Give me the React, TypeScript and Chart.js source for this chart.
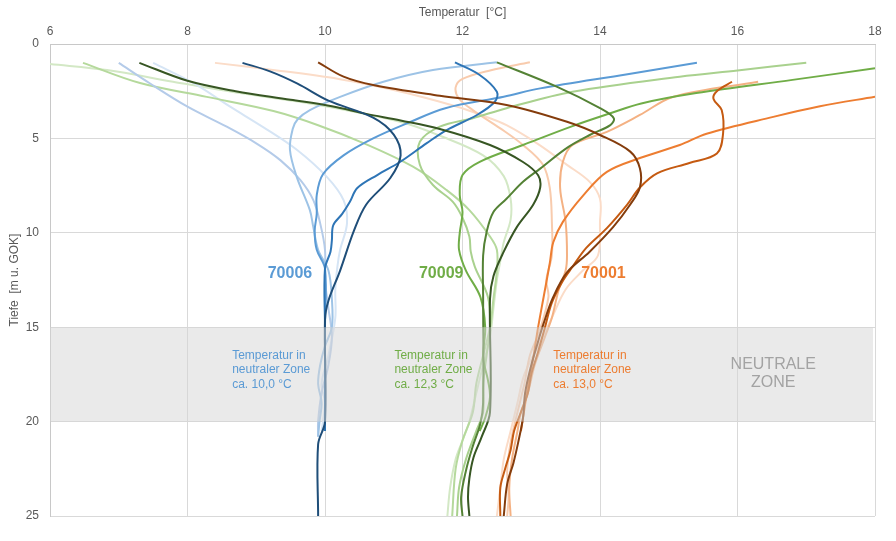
import React, { useEffect, useRef } from "react";
import { Chart, registerables } from "chart.js";

Chart.register(...registerables);

// ---- axis ticks ----
const xTicks = [6, 8, 10, 12, 14, 16, 18];
const yTicks = [0, 5, 10, 15, 20, 25];

// ---- neutral zone (depth, m) ----
const zoneTop = 15;
const zoneBottom = 20;

// ---- well 70006 (blue) : [temperature °C, depth m] ----
const blueDarkest = [[8.8,1.0],[9.2,1.45],[9.6,2.1],[10.05,3.0],[10.7,3.9],[11.0,4.8],[11.1,5.9],[10.95,7.1],[10.6,8.5],[10.42,9.9],[10.22,12.0],[10.05,13.6],[10.0,14.6],[10.0,20.0],[9.9,21.2],[9.9,25]];
const blueDark = [[11.89,0.97],[12.25,1.64],[12.5,2.53],[12.47,3.06],[12.21,3.76],[11.77,4.56],[11.48,5.25],[11.09,6.25],[10.76,6.94],[10.47,7.63],[10.36,8.37],[10.25,9.0],[10.12,9.6],[10.1,10.4],[10.08,11.0],[10.0,11.9],[10.0,15],[10.0,20.5]];
const blueMedium = [[15.41,0.99],[14.4,1.6],[13.13,2.35],[12.6,2.79],[11.75,3.4],[11.24,4.13],[10.7,5.0],[10.27,5.9],[9.97,6.9],[9.88,8.0],[9.88,9.0],[9.85,9.9],[9.88,10.9],[10.0,11.9],[10.0,15],[10.0,20.0]];
const blueLight = [[12.5,0.97],[11.57,1.38],[10.85,2.0],[10.22,2.8],[9.78,3.5],[9.6,4.0],[9.53,4.5],[9.49,5.6],[9.59,7.05],[9.78,8.8],[9.83,9.7],[9.9,10.9],[10.05,12.0],[10.1,13.5],[10.1,15],[10.0,16],[9.93,17],[9.9,18],[9.95,19],[9.92,20],[9.9,20.8]];
const blueLighter = [[7.0,1.0],[7.45,2.08],[8.0,3.32],[8.57,4.38],[9.0,5.26],[9.35,6.15],[9.64,7.2],[9.83,8.27],[9.93,9.5],[10.0,10.9],[10.0,12.5],[10.05,14],[10.1,15.5],[10.05,17],[9.95,18.5],[9.9,20],[9.9,20.8]];
const blueLightest = [[7.5,1.0],[8.1,2.1],[8.62,3.32],[9.1,4.4],[9.59,5.6],[10.03,7.05],[10.27,8.27],[10.32,9.5],[10.22,10.9],[10.18,11.8],[10.15,13],[10.15,14.5],[10.05,16.5],[9.95,18],[10.0,19],[9.95,20.5]];

// ---- well 70009 (green) ----
const greenDarkest = [[7.3,1.0],[8.0,1.95],[8.7,2.5],[9.5,2.95],[10.1,3.3],[10.6,3.7],[11.1,4.05],[11.67,4.5],[12.4,5.35],[12.88,6.25],[13.1,6.95],[13.13,7.6],[13.03,8.5],[12.79,9.7],[12.6,11.0],[12.45,12.3],[12.4,13.5],[12.4,19.5],[12.28,20.8],[12.16,21.9],[12.1,23],[12.08,24],[12.1,25]];
const greenDark = [[12.5,0.97],[13.37,2.26],[14.0,3.4],[14.2,3.93],[14.15,4.3],[13.85,4.82],[13.52,5.5],[13.13,6.6],[12.88,7.3],[12.64,8.2],[12.45,8.9],[12.35,9.97],[12.3,11.2],[12.3,13.4],[12.3,19],[12.26,20.1],[12.15,21.3],[12.05,22.6],[11.98,24],[12.0,25]];
const greenMedium = [[18,1.29],[16.8,1.9],[15.4,2.6],[14.6,3.15],[14.15,3.67],[13.6,4.35],[12.88,5.35],[12.25,6.24],[12.0,6.94],[11.96,8.0],[12.0,8.9],[11.96,10.0],[11.95,10.9],[12.05,12],[12.26,13.4],[12.33,15],[12.3,16.6],[12.37,17.8],[12.4,18.7],[12.33,19.8],[12.25,20.5]];
const greenLight = [[17.0,0.99],[16.0,1.4],[15.16,1.73],[13.6,2.53],[12.64,3.4],[12.15,3.93],[11.67,4.38],[11.38,5.18],[11.38,6.4],[11.57,7.47],[11.86,8.36],[12.0,9.2],[12.1,10.2],[12.12,11.0],[12.18,11.8],[12.37,13.4],[12.4,15],[12.35,16.5],[12.3,18],[12.3,19.5],[12.2,20.5],[12.05,22],[11.95,23.5],[11.92,25]];
const greenLighter = [[6.48,1.0],[7.31,2.07],[8.28,2.8],[9.25,3.55],[9.9,4.3],[10.56,5.25],[11.28,6.5],[11.77,7.74],[12.1,8.8],[12.4,10.2],[12.5,10.9],[12.5,12],[12.45,13.5],[12.4,15],[12.3,16.5],[12.2,18],[12.15,19.5],[12.0,21],[11.9,22.5],[11.85,25]];
const greenLightest = [[6.0,1.06],[6.83,1.38],[7.79,2.0],[8.76,2.6],[9.74,3.13],[11.09,4.12],[11.7,4.9],[12.3,5.9],[12.6,7.0],[12.7,8.2],[12.7,9.3],[12.6,10.5],[12.55,11.5],[12.5,12.5],[12.45,14],[12.4,15.5],[12.3,17],[12.2,18.5],[12.1,20],[12.0,21],[11.9,22],[11.82,23.5],[11.78,25]];

// ---- well 70001 (orange) ----
const orangeDarkest = [[9.9,0.97],[10.27,1.73],[10.7,2.17],[11.67,2.74],[12.64,3.23],[13.52,4.12],[14.0,4.82],[14.44,5.7],[14.58,6.58],[14.58,7.6],[14.44,8.5],[14.19,9.7],[13.85,11.0],[13.52,12.1],[13.32,13.4],[13.18,14.8],[13.08,16],[12.98,17.3],[12.91,18.5],[12.88,19.8],[12.81,21.1],[12.74,22.2],[12.65,23.3],[12.6,25]];
const orangeDark = [[15.92,2.0],[15.7,2.5],[15.65,2.9],[15.77,3.5],[15.79,4.75],[15.7,5.8],[15.3,6.3],[14.83,6.85],[14.58,7.6],[14.39,8.53],[14.1,9.75],[13.8,10.8],[13.6,11.8],[13.45,12.6],[13.3,13.7],[13.2,15],[13.1,16.3],[13.0,17.5],[12.95,18.5],[12.85,19.5],[12.75,20.5],[12.7,21.5],[12.62,22.5],[12.55,23.5],[12.55,25]];
const orangeMedium = [[18,2.79],[17.2,3.3],[16.52,3.86],[15.55,4.75],[15.16,5.35],[14.58,6.04],[14.1,6.77],[13.76,8.0],[13.46,9.42],[13.32,10.5],[13.27,11.6],[13.18,13.4],[13.1,15],[13.03,16.6],[12.95,18.2],[12.88,19.8],[12.85,20.5]];
const orangeLight = [[16.3,2.0],[15.07,2.79],[14.58,3.76],[14.1,4.65],[13.6,5.35],[13.46,6.24],[13.42,7.63],[13.5,9.42],[13.52,11.2],[13.5,12.0],[13.4,13],[13.3,14.5],[13.2,15.5],[13.05,17],[12.95,18.5],[12.85,19.5],[12.8,20.5],[12.72,22],[12.68,23.5],[12.7,25]];
const orangeLighter = [[12.98,0.97],[12.4,1.4],[12.0,1.85],[11.9,2.3],[11.95,2.9],[12.15,3.5],[12.55,4.47],[12.88,5.35],[13.17,6.4],[13.27,7.63],[13.3,9.42],[13.3,11.2],[13.22,12.5],[13.25,13.4],[13.12,15.2],[12.98,16.5],[12.9,18],[12.78,19.8],[12.7,21.1],[12.65,22.6],[12.67,24],[12.65,25]];
const orangeLightest = [[8.4,1.0],[9.3,1.4],[10.2,1.85],[10.7,2.2],[11.3,2.7],[11.9,3.3],[12.3,3.8],[12.64,4.3],[13.1,5.3],[13.52,6.4],[13.85,7.3],[14.0,8.2],[14.0,9.4],[13.97,11.2],[13.75,12],[13.5,13],[13.3,14.5],[13.1,16],[12.9,17.5],[12.8,19],[12.7,20.5],[12.6,22],[12.55,23.5],[12.5,25]];

// ---- series (darkest first = drawn on top) ----
const series = [
  { data: blueDarkest, color: "#1f4e79" },
  { data: greenDarkest, color: "#375623" },
  { data: orangeDarkest, color: "#843c0c" },
  { data: blueDark, color: "#2e75b6" },
  { data: greenDark, color: "#548235" },
  { data: orangeDark, color: "#c55a11" },
  { data: blueMedium, color: "#5b9bd5" },
  { data: greenMedium, color: "#70ad47" },
  { data: orangeMedium, color: "#ed7d31" },
  { data: blueLight, color: "#9dc3e6" },
  { data: greenLight, color: "#a9d18e" },
  { data: orangeLight, color: "#f4b183" },
  { data: blueLighter, color: "#b4cbe9" },
  { data: greenLighter, color: "#b5d99c" },
  { data: orangeLighter, color: "#f8cbad" },
  { data: blueLightest, color: "#d6e5f5" },
  { data: greenLightest, color: "#d3e8c5" },
  { data: orangeLightest, color: "#fbdcc8" },
];

// ---- text annotations ----
const wellNames = ["70006", "70009", "70001"];
const wellNameT = [9.49, 11.69, 14.05];
const wellNameD = 12.14;
const wellColors = ["#5b9bd5", "#70ad47", "#ed7d31"];
const zoneTextT = [8.65, 11.01, 13.32];
const zoneTextD = 16.52;
const zoneTempText = ["ca. 10,0 °C", "ca. 12,3 °C", "ca. 13,0 °C"];
const zoneTextLines = ["Temperatur in", "neutraler Zone"];
const neutralLines = ["NEUTRALE", "ZONE"];
const neutralT = 16.52;
const neutralD = 16.96;

const FONT = "'Liberation Sans', Arial, sans-serif";

const overlayPlugin = {
  id: "zoneOverlay",
  afterDatasetsDraw(chart: any) {
    const { ctx, chartArea } = chart;
    const x = chart.scales.x;
    const y = chart.scales.y;
    ctx.save();
    const top = y.getPixelForValue(zoneTop);
    const bottom = y.getPixelForValue(zoneBottom);
    ctx.fillStyle = "rgba(214,214,214,0.5)";
    ctx.fillRect(chartArea.left, top, chartArea.right - chartArea.left - 2, bottom - top);

    // well names
    ctx.font = `bold 16px ${FONT}`;
    ctx.textAlign = "center";
    ctx.textBaseline = "middle";
    wellNames.forEach((name, i) => {
      ctx.fillStyle = wellColors[i];
      ctx.fillText(name, x.getPixelForValue(wellNameT[i]), y.getPixelForValue(wellNameD));
    });

    // neutral zone temperatures
    ctx.font = `12px ${FONT}`;
    ctx.textAlign = "left";
    zoneTextT.forEach((t, i) => {
      ctx.fillStyle = wellColors[i];
      const px = x.getPixelForValue(t);
      const py = y.getPixelForValue(zoneTextD);
      const lines = [...zoneTextLines, zoneTempText[i]];
      lines.forEach((ln, k) => ctx.fillText(ln, px, py + k * 14.2));
    });

    // NEUTRALE ZONE
    ctx.font = `16px ${FONT}`;
    ctx.textAlign = "center";
    ctx.fillStyle = "#a3a3a3";
    neutralLines.forEach((ln, k) => {
      ctx.fillText(ln, x.getPixelForValue(neutralT), y.getPixelForValue(neutralD) + k * 18.5);
    });
    ctx.restore();
  },
};

export default function App() {
  const ref = useRef<HTMLCanvasElement | null>(null);

  useEffect(() => {
    if (!ref.current) return;
    Chart.defaults.font.family = FONT;
    const chart = new Chart(ref.current, {
      type: "scatter",
      data: {
        datasets: series.map((s) => ({
          data: s.data.map(([t, d]) => ({ x: t, y: d })),
          borderColor: s.color,
          backgroundColor: s.color,
          borderWidth: 2,
          showLine: true,
          pointRadius: 0,
          pointHoverRadius: 0,
          tension: 0.35,
          fill: false,
        })),
      },
      options: {
        animation: false,
        responsive: false,
        events: [],
        layout: { padding: { left: 0, top: 0, right: 21, bottom: 25 } },
        plugins: { legend: { display: false }, tooltip: { enabled: false } },
        scales: {
          x: {
            type: "linear",
            position: "top",
            min: xTicks[0],
            max: xTicks[xTicks.length - 1],
            afterFit: (s: any) => { s.height = 44; },
            afterBuildTicks: (s: any) => { s.ticks = xTicks.map((v) => ({ value: v })); },
            ticks: { color: "#595959", font: { size: 12 }, padding: 5 },
            grid: { color: "#d9d9d9", drawTicks: false },
            border: { color: "#c8c8c8" },
            title: {
              display: true,
              text: "Temperatur  [°C]",
              color: "#595959",
              font: { size: 12 },
              padding: { top: 5, bottom: 0 },
            },
          },
          y: {
            type: "linear",
            reverse: true,
            min: yTicks[0],
            max: yTicks[yTicks.length - 1],
            afterFit: (s: any) => { s.width = 50; },
            afterBuildTicks: (s: any) => { s.ticks = yTicks.map((v) => ({ value: v })); },
            ticks: { color: "#595959", font: { size: 12 }, padding: 11 },
            grid: { color: "#d9d9d9", drawTicks: false },
            border: { color: "#c8c8c8" },
            title: {
              display: true,
              text: "Tiefe  [m u. GOK]",
              color: "#595959",
              font: { size: 12 },
              padding: { top: 7, bottom: 0 },
            },
          },
        },
      },
      plugins: [overlayPlugin],
    });
    return () => chart.destroy();
  }, []);

  return (
    <div style={{ position: "absolute", left: 0, top: 0, width: 896, height: 541, background: "#fff" }}>
      <canvas ref={ref} width={896} height={541} style={{ display: "block" }} />
    </div>
  );
}
